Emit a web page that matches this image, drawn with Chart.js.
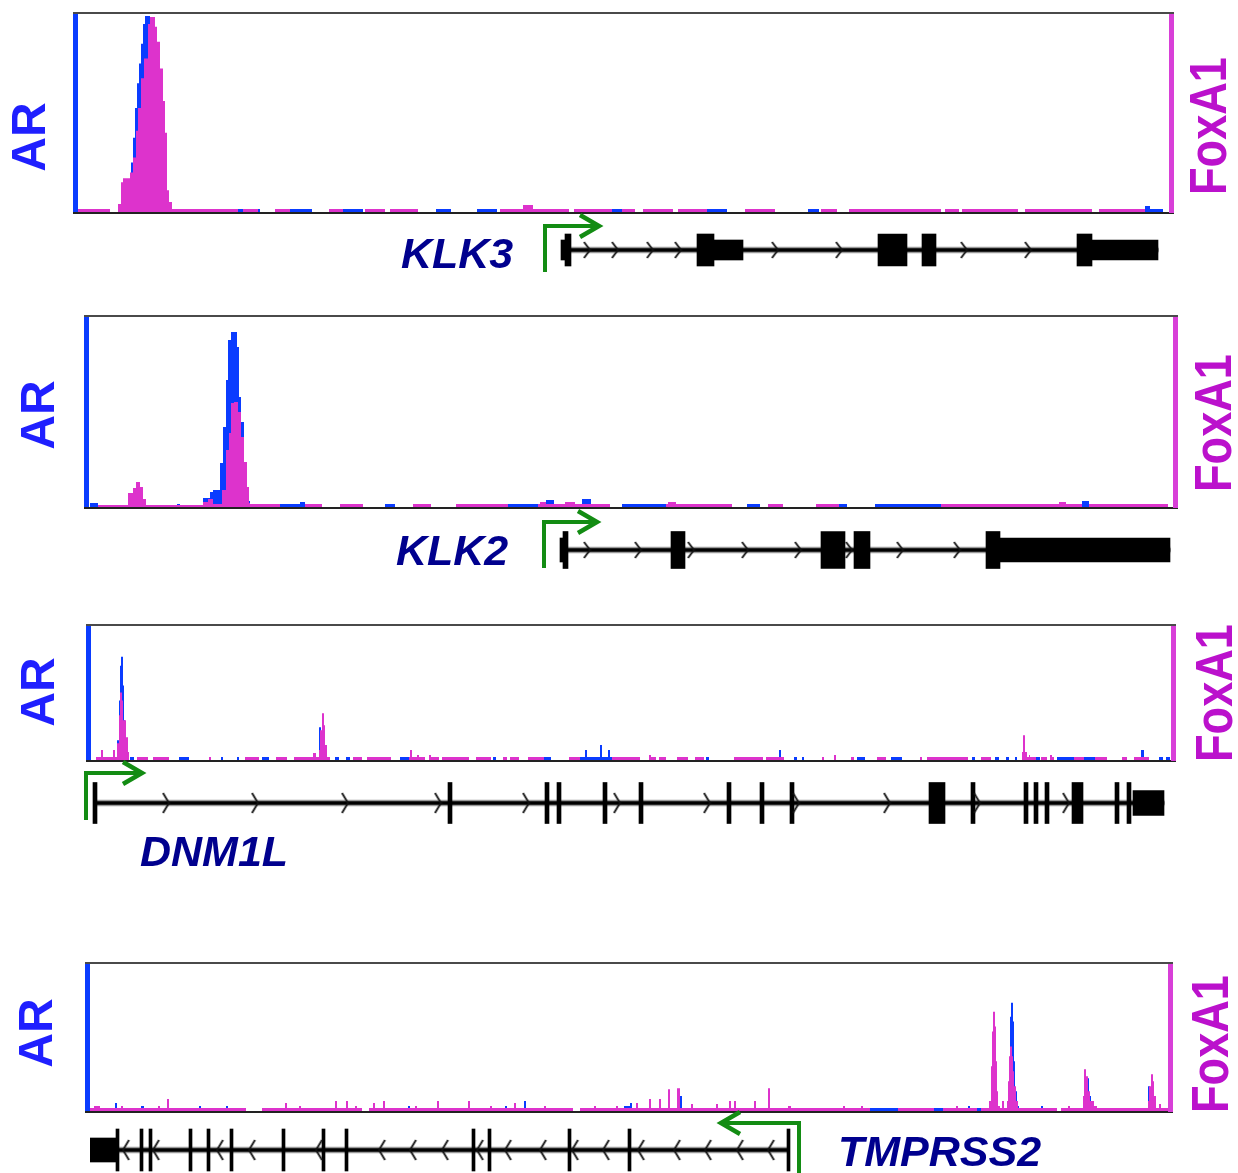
<!DOCTYPE html>
<html>
<head>
<meta charset="utf-8">
<script src="https://cdn.jsdelivr.net/npm/chart.js@4.4.1/dist/chart.umd.min.js"></script>
<style>
  html, body { margin: 0; background: #fff; overflow: hidden; }
  #page { position: relative; width: 1238px; height: 1173px; }
  .box { position: absolute; left: 0; width: 1238px; }
</style>
</head>
<body>
<div id="page"></div>
<script>
// Signal tracks: [position, height], each height holds until the next position
const klk3AR = [[0,3],[32,0],[40,6],[45,32],[53,50],[55,75],[57,105],[59,130],[61,150],[63,170],[65,190],[67,198],[72,194],[77,170],[79,150],[82,120],[85,70],[88,20],[91,5],[94,3],[182,0],[212,3],[234,0],[251,3],[285,0],[358,3],[373,0],[399,3],[419,0],[422,3],[491,0],[496,3],[557,0],[565,3],[595,0],[600,3],[649,0],[730,3],[741,0],[743,3],[759,0],[1065,3],[1067,6],[1072,3],[1085,0]];
const klk3FoxA1 = [[0,3],[32,0],[40,8],[43,30],[45,34],[52,40],[55,55],[58,82],[60,105],[63,135],[66,155],[70,190],[72,197],[77,187],[79,172],[82,145],[85,112],[87,80],[89,22],[91,10],[94,3],[160,0],[165,3],[180,0],[197,3],[212,0],[251,3],[265,0],[287,3],[307,0],[312,3],[340,0],[422,3],[445,7],[455,3],[491,0],[496,3],[534,0],[544,3],[557,0],[565,3],[595,0],[600,3],[629,0],[667,3],[697,0],[743,3],[759,0],[771,3],[863,0],[867,3],[881,0],[884,3],[940,0],[947,3],[1014,0],[1021,3],[1067,0]];

const klk2AR = [[1,4],[9,0],[88,3],[91,0],[114,9],[121,15],[124,17],[131,44],[134,80],[137,127],[139,167],[142,175],[148,160],[150,110],[152,85],[155,40],[158,6],[161,0],[191,3],[211,5],[216,0],[296,3],[306,0],[419,3],[457,7],[465,3],[493,8],[502,3],[521,0],[533,3],[577,0],[658,3],[671,0],[750,3],[758,0],[786,3],[852,0],[993,6],[1000,0]];
const klk2FoxA1 = [[9,2],[39,14],[44,19],[47,25],[51,20],[54,8],[57,2],[114,5],[119,8],[124,3],[133,17],[137,57],[140,74],[142,104],[145,105],[149,95],[152,70],[155,45],[158,20],[160,4],[161,3],[191,0],[216,3],[233,0],[251,3],[274,0],[324,3],[342,0],[367,3],[419,0],[449,3],[451,5],[457,3],[476,5],[486,3],[521,0],[577,3],[579,5],[587,3],[643,0],[679,3],[694,0],[727,3],[750,0],[852,3],[970,5],[977,3],[993,0],[1000,3],[1079,0]];

const dnm1lAR = [[26,20],[28,60],[29,95],[30,104],[32,75],[33,40],[34,15],[36,0],[39,3],[43,0],[62,3],[66,0],[88,3],[98,0],[130,3],[132,0],[146,3],[148,0],[171,3],[178,0],[228,33],[230,0],[244,3],[248,0],[255,3],[259,0],[309,3],[318,0],[402,3],[405,0],[453,3],[460,0],[489,3],[494,10],[496,3],[509,15],[511,3],[517,10],[519,3],[521,0],[529,3],[533,0],[615,3],[618,0],[659,3],[665,0],[688,10],[690,0],[703,3],[706,0],[711,3],[713,0],[766,3],[774,0],[800,3],[811,0],[859,3],[866,0],[881,3],[884,0],[904,3],[908,0],[915,3],[918,0],[924,3],[926,0],[945,3],[949,0],[966,3],[983,0],[993,3],[1004,0],[1050,10],[1053,3],[1057,0],[1068,3],[1072,0],[1075,3],[1079,0]];
const dnm1lFoxA1 = [[5,3],[10,10],[12,3],[22,10],[24,3],[26,17],[28,45],[29,68],[31,60],[32,40],[35,23],[37,8],[38,0],[46,3],[57,0],[62,3],[78,0],[118,3],[120,0],[154,3],[168,0],[185,3],[196,0],[203,3],[222,7],[225,3],[228,10],[229,30],[231,47],[233,35],[234,15],[236,3],[239,0],[262,3],[271,0],[276,3],[300,0],[318,3],[319,10],[321,3],[326,5],[328,3],[334,0],[338,5],[340,3],[348,0],[351,3],[378,0],[385,3],[400,0],[412,3],[416,0],[419,3],[428,0],[437,3],[453,0],[478,3],[489,0],[521,3],[549,0],[558,5],[560,3],[565,0],[568,3],[575,0],[586,3],[597,0],[604,3],[613,0],[643,3],[672,0],[675,3],[693,0],[731,3],[733,0],[743,5],[745,0],[760,3],[763,0],[786,3],[795,0],[829,3],[831,0],[836,3],[877,0],[890,3],[900,0],[931,8],[932,25],[934,8],[936,3],[938,5],[939,3],[945,0],[950,3],[956,0],[959,5],[961,3],[963,0],[983,3],[993,0],[1004,3],[1016,0],[1031,3],[1036,0],[1043,3],[1058,0]];

const tmprss2AR = [[0,3],[25,8],[27,3],[51,5],[54,3],[109,5],[111,3],[136,5],[138,3],[156,0],[172,3],[272,0],[279,3],[318,5],[320,3],[415,5],[417,3],[434,10],[436,3],[483,0],[490,3],[534,5],[540,8],[542,3],[590,15],[592,3],[878,5],[880,3],[918,20],[919,50],[920,95],[921,109],[923,90],[924,50],[925,20],[927,5],[929,3],[951,5],[953,3],[967,0],[971,3],[997,33],[999,15],[1001,3],[1058,25],[1060,3],[1078,0]];
const tmprss2FoxA1 = [[0,3],[4,5],[10,3],[31,5],[33,3],[68,5],[70,3],[77,12],[79,3],[156,0],[172,3],[195,8],[197,3],[209,5],[211,3],[245,10],[247,3],[256,10],[258,3],[265,5],[267,3],[272,0],[279,3],[283,8],[285,3],[293,10],[295,3],[325,5],[327,3],[347,10],[349,3],[378,10],[380,3],[400,5],[402,3],[424,8],[426,3],[454,5],[456,3],[483,0],[490,3],[504,5],[506,3],[526,5],[528,3],[546,8],[548,3],[559,12],[561,3],[569,12],[571,3],[578,22],[580,3],[587,23],[590,3],[601,7],[603,3],[626,7],[628,3],[639,10],[641,3],[644,10],[646,3],[664,10],[666,3],[678,23],[680,3],[698,5],[701,3],[753,5],[755,3],[771,5],[773,3],[780,0],[808,3],[844,0],[853,3],[866,5],[868,3],[887,0],[891,3],[899,10],[901,45],[902,80],[903,100],[905,85],[906,50],[907,20],[908,5],[910,3],[912,10],[914,3],[917,10],[918,30],[919,55],[920,65],[922,55],[923,40],[924,25],[926,10],[928,3],[967,0],[971,3],[978,5],[980,3],[993,15],[994,42],[996,35],[998,20],[1000,10],[1004,5],[1007,3],[1058,10],[1059,25],[1061,37],[1063,30],[1064,15],[1066,3],[1069,7],[1071,3],[1078,0]];

// Gene models, same window positions as the tracks above
const klk3Intron = [[487, 1080]];
const klk3Utr = [[483, 487], [636, 665], [1014, 1080]];
const klk3Cds = [[487, 493], [619, 636], [800, 829], [844, 858], [999, 1014]];
const klk3Chevrons = [509, 537, 572, 600, 697, 761, 886, 950];
const klk3Tss = 467;

const klk2Intron = [[474, 1081]];
const klk2Utr = [[471, 474], [911, 1081]];
const klk2Cds = [[474, 479], [582, 596], [732, 756], [765, 781], [897, 911]];
const klk2Chevrons = [498, 549, 602, 656, 709, 760, 811, 868];
const klk2Tss = 455;

const dnm1lIntron = [[3, 1073]];
const dnm1lUtr = [[1042, 1073]];
const dnm1lCds = [[2,6],[357,361],[454,458],[466,470],[512,516],[548,552],[636,640],[669,673],[699,703],[838,854],[880,884],[933,937],[943,947],[954,958],[981,992],[1024,1028],[1036,1040]];
const dnm1lChevrons = [75, 164, 254, 347, 435, 526, 616, 705, 796, 886, 975];
const dnm1lTss = -5;

const tmprss2Intron = [[0, 699]];
const tmprss2Utr = [[0, 26]];
const tmprss2Cds = [[26,29],[50,53],[59,62],[99,102],[117,120],[140,143],[192,195],[232,235],[255,258],[382,385],[398,401],[478,481],[538,541],[697,700]];
const tmprss2Chevrons = [36, 66, 130, 162, 229, 292, 323, 355, 390, 418, 453, 485, 516, 551, 587, 618, 650, 681];
const tmprss2Tss = 709;

// --------------------------------------------------------------------------

const PAGE_W = 1238;
const AR_BLUE = '#0a3cff';
const FOX_PINK = '#dd33cc';
const AR_TEXT = '#1f1fff';
const FOX_TEXT = '#bb11cc';
const TSS_GREEN = '#138c13';
const NAME_NAVY = '#00008e';
const LABEL_FONT = '"Liberation Sans", Arial, sans-serif';

const panels = [
  {
    name: 'KLK3', ar: klk3AR, fox: klk3FoxA1, span: 1091, viewMax: 200,
    gene: { intron: klk3Intron, utr: klk3Utr, cds: klk3Cds, chevrons: klk3Chevrons, tss: klk3Tss, strand: 1 },
    sig: { top: 0, height: 230, box: { left: 78, top: 14, right: 1169, bottom: 212 }, arAt: [32, 137], foxAt: [1212, 126] },
    trk: { mid: 250, cdsH: 32, utrH: 20, chevH: 16, arrow: { up: 24, down: 22, len: 54 }, nameAt: [401, 268] }
  },
  {
    name: 'KLK2', ar: klk2AR, fox: klk2FoxA1, span: 1084, viewMax: 190,
    gene: { intron: klk2Intron, utr: klk2Utr, cds: klk2Cds, chevrons: klk2Chevrons, tss: klk2Tss, strand: 1 },
    sig: { top: 300, height: 225, box: { left: 89, top: 317, right: 1173, bottom: 507 }, arAt: [41, 415], foxAt: [1217, 423] },
    trk: { mid: 550, cdsH: 37, utrH: 24, chevH: 16, arrow: { up: 28, down: 18, len: 53 }, nameAt: [396, 565] }
  },
  {
    name: 'DNM1L', ar: dnm1lAR, fox: dnm1lFoxA1, span: 1080, viewMax: 135,
    gene: { intron: dnm1lIntron, utr: dnm1lUtr, cds: dnm1lCds, chevrons: dnm1lChevrons, tss: dnm1lTss, strand: 1 },
    sig: { top: 600, height: 180, box: { left: 91, top: 626, right: 1171, bottom: 760 }, arAt: [41, 692], foxAt: [1218, 693] },
    trk: { mid: 803, cdsH: 41, utrH: 25, chevH: 20, arrow: { up: 30, down: 17, len: 56 }, nameAt: [140, 866] }
  },
  {
    name: 'TMPRSS2', ar: tmprss2AR, fox: tmprss2FoxA1, span: 1078, viewMax: 148,
    gene: { intron: tmprss2Intron, utr: tmprss2Utr, cds: tmprss2Cds, chevrons: tmprss2Chevrons, tss: tmprss2Tss, strand: -1 },
    sig: { top: 940, height: 190, box: { left: 90, top: 964, right: 1168, bottom: 1111 }, arAt: [39, 1033], foxAt: [1214, 1044] },
    trk: { mid: 1150, cdsH: 42, utrH: 24, chevH: 20, arrow: { up: 27, down: 24, len: 78 }, nameAt: [838, 1166] }
  }
];

// --------------------------------------------------------------------------

const steps = list => list.map(([x, y]) => ({ x, y }));
const blocks = (list, row) => list.map(([s, e]) => ({ x: [s, e], y: row }));
const marks = (list, row) => list.map(x => ({ x, y: row }));

const addCanvas = (top, height) => {
  const box = document.createElement('div');
  box.className = 'box';
  box.style.top = top + 'px';
  box.style.height = height + 'px';
  const cv = document.createElement('canvas');
  box.appendChild(cv);
  document.getElementById('page').appendChild(box);
  return cv;
};

// Small intron arrow glyph, used as point style
const chevron = (h, dir) => {
  const c = document.createElement('canvas');
  c.width = 9;
  c.height = h + 2;
  const g = c.getContext('2d');
  g.strokeStyle = '#111';
  g.lineWidth = 1.8;
  g.beginPath();
  const a = dir > 0 ? 1.5 : 7.5, b = dir > 0 ? 7.5 : 1.5;
  g.moveTo(a, 1);
  g.lineTo(b, h / 2 + 1);
  g.lineTo(a, h + 1);
  g.stroke();
  return c;
};

const drawVertical = (ctx, text, cx, cy, size, color, squeeze) => {
  ctx.save();
  ctx.translate(cx, cy);
  ctx.rotate(-Math.PI / 2);
  ctx.scale(squeeze, 1);
  ctx.font = `bold ${size}px ${LABEL_FONT}`;
  ctx.fillStyle = color;
  ctx.textAlign = 'center';
  ctx.textBaseline = 'middle';
  ctx.fillText(text, 0, 0);
  ctx.restore();
};

// Frame of a signal track: coloured side bars, top and bottom rules, track names
const trackFrame = {
  id: 'trackFrame',
  afterDatasetsDraw(chart, args, o) {
    const { ctx, chartArea: a } = chart;
    const w = a.right - a.left;
    ctx.save();
    ctx.fillStyle = '#4a4a4a';
    ctx.fillRect(a.left - 5, a.top - 2, w + 10, 2);
    ctx.fillStyle = '#222';
    ctx.fillRect(a.left - 5, a.bottom, w + 10, 2);
    ctx.fillStyle = AR_BLUE;
    ctx.fillRect(a.left - 5, a.top, 5, a.bottom - a.top);
    ctx.fillStyle = '#d83fd8';
    ctx.fillRect(a.right, a.top, 5, a.bottom - a.top + 1);
    drawVertical(ctx, 'AR', o.arAt[0], o.arAt[1] - o.offsetTop, 48, AR_TEXT, 1);
    drawVertical(ctx, 'FoxA1', o.foxAt[0], o.foxAt[1] - o.offsetTop, 51, FOX_TEXT, 0.885);
    ctx.restore();
  }
};

// TSS arrow and gene name
const geneMarks = {
  id: 'geneMarks',
  afterDatasetsDraw(chart, args, o) {
    const { ctx, chartArea: a, scales: { x } } = chart;
    const mid = (a.top + a.bottom) / 2;
    const sx = x.getPixelForValue(o.tss);
    const yTop = mid - o.arrow.up;
    const tip = sx + o.strand * o.arrow.len;
    ctx.save();
    ctx.strokeStyle = TSS_GREEN;
    ctx.lineWidth = 4;
    ctx.beginPath();
    ctx.moveTo(sx, mid + o.arrow.down);
    ctx.lineTo(sx, yTop);
    ctx.lineTo(tip, yTop);
    ctx.stroke();
    ctx.lineWidth = 4.5;
    ctx.beginPath();
    ctx.moveTo(tip - o.strand * 19, yTop - 11);
    ctx.lineTo(tip, yTop);
    ctx.lineTo(tip - o.strand * 19, yTop + 11);
    ctx.stroke();
    ctx.font = `italic bold 43px ${LABEL_FONT}`;
    ctx.fillStyle = NAME_NAVY;
    ctx.textAlign = 'left';
    ctx.textBaseline = 'alphabetic';
    ctx.fillText(o.name, o.nameAt[0], o.nameAt[1] - o.offsetTop);
    ctx.restore();
  }
};

// --------------------------------------------------------------------------

const signalChart = p => {
  const { top, height, box } = p.sig;
  const line = (label, list, color, order) => ({
    label, data: steps(list), order,
    stepped: true, fill: 'origin',
    backgroundColor: color, borderColor: 'rgba(0,0,0,0)', borderWidth: 0,
    pointRadius: 0
  });
  new Chart(addCanvas(top, height), {
    type: 'line',
    data: {
      datasets: [
        line('FoxA1', p.fox, FOX_PINK, 1),
        line('AR', p.ar, AR_BLUE, 2)
      ]
    },
    options: {
      responsive: true,
      maintainAspectRatio: false,
      animation: false,
      events: [],
      layout: { padding: { left: box.left, right: PAGE_W - box.right, top: box.top - top, bottom: top + height - box.bottom } },
      scales: {
        x: { type: 'linear', min: 0, max: p.span, display: false },
        y: { type: 'linear', min: 0, max: p.viewMax, display: false }
      },
      plugins: {
        legend: { display: false },
        tooltip: { enabled: false },
        trackFrame: { arAt: p.sig.arAt, foxAt: p.sig.foxAt, offsetTop: top }
      }
    },
    plugins: [trackFrame]
  });
};

const geneChart = p => {
  const t = p.trk, g = p.gene, box = p.sig.box;
  const top = t.mid - 70, height = 140;
  const bar = (list, thickness, color, order) => ({
    type: 'bar', data: blocks(list, p.name), order,
    barThickness: thickness, backgroundColor: color, borderWidth: 0, grouped: false
  });
  new Chart(addCanvas(top, height), {
    type: 'bar',
    data: {
      labels: [p.name],
      datasets: [
        {
          type: 'scatter', data: marks(g.chevrons, p.name), order: 1,
          pointStyle: chevron(t.chevH, g.strand), pointRadius: 4
        },
        bar(g.cds, t.cdsH, '#000', 2),
        bar(g.utr, t.utrH, '#000', 3),
        bar(g.intron, 3, '#000', 4),
        bar(g.intron, 6, '#9a9a9a', 5)
      ]
    },
    options: {
      responsive: true,
      maintainAspectRatio: false,
      animation: false,
      events: [],
      indexAxis: 'y',
      layout: { padding: { left: box.left, right: PAGE_W - box.right, top: 0, bottom: 0 } },
      scales: {
        x: { type: 'linear', min: 0, max: p.span, display: false },
        y: { type: 'category', offset: true, display: false }
      },
      plugins: {
        legend: { display: false },
        tooltip: { enabled: false },
        geneMarks: { name: p.name, tss: g.tss, strand: g.strand, arrow: t.arrow, nameAt: t.nameAt, offsetTop: top }
      }
    },
    plugins: [geneMarks]
  });
};

panels.forEach(p => {
  signalChart(p);
  geneChart(p);
});
</script>
</body>
</html>
